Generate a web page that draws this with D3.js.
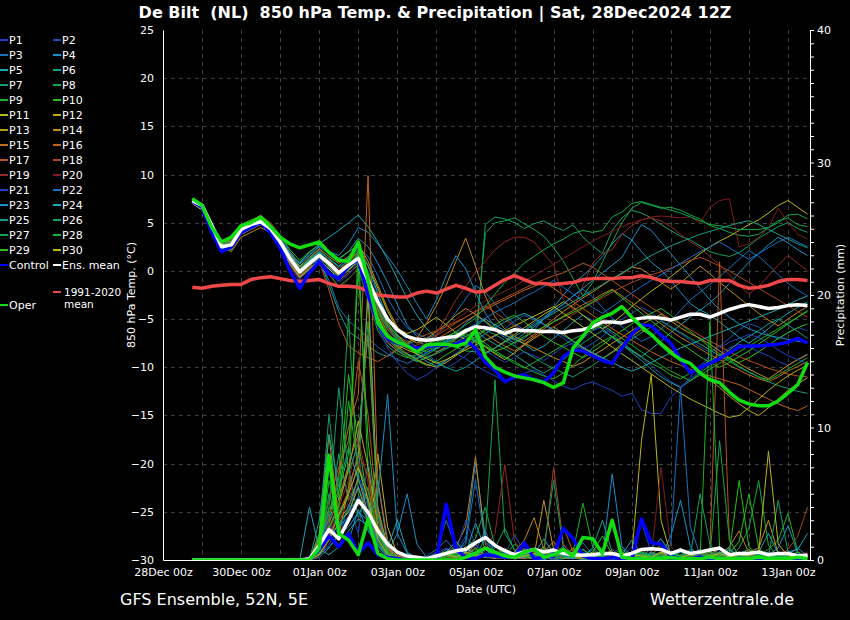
<!DOCTYPE html>
<html><head><meta charset="utf-8">
<script src="https://cdn.jsdelivr.net/npm/d3@7"></script>
<style>
body{margin:0;background:#000;}
svg{display:block;background:#000;}
text{font-family:"DejaVu Sans",sans-serif;fill:#fff;}
</style></head><body>
<svg id="c" width="850" height="620"></svg>
<script>
// ---------- categories / ticks ----------
const memberNames = ["P1","P2","P3","P4","P5","P6","P7","P8","P9","P10","P11","P12","P13","P14","P15","P16","P17","P18","P19","P20","P21","P22","P23","P24","P25","P26","P27","P28","P29","P30"];
const memberColors = ["#2040c8","#1850b0","#1870c0","#1890c8","#18a8b0","#14a088","#14a068","#14a848","#18b428","#28c018","#b8b818","#c0a818","#c09818","#c08818","#c07418","#c06418","#b85418","#a84420","#982820","#801c1c","#2040c8","#1870c0","#1890c8","#18a8b8","#14a088","#14a068","#14a848","#18b428","#28c018","#b8b818"];
const xTickLabels = ["28Dec 00z","30Dec 00z","01Jan 00z","03Jan 00z","05Jan 00z","07Jan 00z","09Jan 00z","11Jan 00z","13Jan 00z"];
const tempTicks = [-30,-25,-20,-15,-10,-5,0,5,10,15,20,25];
const precTicks = [0,10,20,30,40];

// ---------- 850 hPa temperature (°C), 6-hourly from 28Dec 18z ----------
const tMean = [7.3,6.8,4.7,2.5,2.7,4.3,4.8,5.1,4.4,3.0,1.3,-0.1,0.8,1.6,0.8,-0.2,
 0.6,1.3,-1.0,-3.2,-5.0,-6.1,-6.8,-7.1,-7.2,-7.1,-6.9,-6.8,-6.2,-5.8,-5.9,-6.1,
 -6.5,-6.1,-6.2,-6.2,-6.3,-6.3,-6.4,-6.2,-6.1,-5.8,-5.3,-5.3,-5.4,-5.1,-4.9,-4.8,
 -4.9,-5.1,-4.8,-4.5,-4.5,-4.8,-4.4,-4.0,-3.7,-3.5,-3.7,-3.9,-3.8,-3.6,-3.5,-3.6];
const tControl = [7.2,6.6,4.0,2.0,2.5,4.0,4.5,5.0,4.0,2.4,0.0,-1.8,-0.2,1.0,-0.3,-0.8,
 0.5,1.2,-2.5,-5.5,-7.0,-7.5,-7.8,-8.0,-7.9,-7.7,-7.7,-7.6,-7.2,-8.0,-9.5,-10.3,
 -11.5,-11.0,-10.8,-11.3,-11.5,-10.6,-8.9,-8.2,-8.3,-8.8,-9.3,-9.6,-8.0,-6.6,-5.6,-5.7,
 -6.7,-7.5,-9.2,-10.6,-10.0,-9.6,-9.1,-8.5,-7.9,-7.8,-7.8,-7.7,-7.6,-7.4,-7.0,-7.5];
const tOper = [7.5,6.8,4.5,3.0,3.5,4.7,5.0,5.6,4.6,3.5,2.8,2.4,2.7,3.0,1.9,1.1,
 1.0,3.0,-1.0,-5.4,-6.8,-7.4,-7.8,-8.4,-7.7,-7.6,-7.6,-7.8,-7.5,-6.1,-8.9,-10.0,
 -10.5,-10.9,-11.1,-11.3,-11.6,-12.1,-11.6,-8.0,-6.8,-5.4,-4.8,-4.4,-3.7,-4.8,-5.8,-6.6,
 -7.6,-8.5,-9.2,-9.6,-10.6,-11.3,-11.6,-12.6,-13.4,-13.8,-14.0,-14.0,-13.5,-12.7,-11.8,-9.5];
const tClim = [-1.7,-1.8,-1.6,-1.5,-1.4,-1.4,-0.9,-0.7,-0.6,-0.8,-1.0,-1.1,-1.0,-0.9,-1.3,-1.6,
 -1.6,-1.7,-2.1,-2.5,-2.6,-2.7,-2.7,-2.3,-2.1,-2.3,-1.9,-1.5,-1.8,-2.2,-2.1,-1.5,
 -0.9,-0.5,-0.9,-1.3,-1.3,-1.4,-1.3,-1.2,-0.9,-0.8,-0.8,-0.8,-0.7,-0.7,-0.5,-0.7,
 -1.0,-1.1,-1.1,-1.2,-1.3,-1.0,-1.0,-1.0,-1.5,-1.8,-1.7,-1.5,-1.1,-0.9,-0.9,-1.0];

const tP1 = [7.2,6.6,4.3,2.1,2.6,4.0,4.6,5.0,4.1,2.4,0.6,-0.9,0.4,1.8,0.3,-0.7,
 0.4,1.0,-2.0,-5.8,-7.5,-8.3,-8.6,-9.0,-8.5,-8.0,-7.4,-7.0,-6.8,-7.3,-8.2,-8.9,
 -9.5,-9.0,-8.4,-8.8,-9.3,-8.6,-7.9,-7.5,-7.0,-6.2,-5.8,-6.5,-7.4,-8.3,-9.0,-9.8,
 -10.7,-11.5,-12.0,-11.2,-10.4,-9.5,-8.7,-8.0,-7.6,-7.9,-8.4,-8.8,-9.4,-9.8,-9.2,-8.6];
const tP2 = [7.4,6.9,5.0,3.2,3.0,4.4,5.0,5.4,4.6,3.3,1.0,0.3,1.2,2.0,0.5,-1.0,
 0.2,1.8,0.0,-2.5,-4.8,-6.0,-7.2,-7.9,-8.6,-9.4,-10.1,-9.5,-8.8,-8.0,-7.2,-6.8,
 -6.0,-5.2,-4.6,-5.0,-5.6,-6.3,-7.0,-7.7,-8.1,-7.5,-6.8,-5.9,-5.0,-4.4,-3.8,-4.3,
 -5.1,-5.9,-6.5,-7.2,-7.9,-8.4,-7.8,-7.0,-6.1,-5.5,-5.8,-6.6,-7.1,-6.4,-5.9,-6.2];
const tP3 = [7.3,6.7,4.6,2.4,2.5,4.2,4.7,5.3,4.5,3.1,1.5,0.1,1.0,1.4,1.0,0.2,
 1.1,2.4,1.5,-0.5,-2.8,-4.6,-5.9,-6.5,-7.0,-6.6,-5.7,-4.3,-2.9,-1.5,-2.2,-3.4,
 -4.6,-5.5,-6.1,-5.4,-4.8,-4.1,-3.5,-2.6,-1.9,-2.7,-3.8,-4.9,-5.8,-6.6,-7.3,-6.8,
 -6.0,-5.2,-4.1,-3.0,-2.2,-1.4,-0.6,0.3,1.2,2.1,1.5,0.6,-0.4,-1.3,-2.0,-2.6];
const tP4 = [7.1,6.5,4.4,2.7,3.0,4.5,5.1,5.5,4.8,3.6,2.0,0.7,1.6,2.5,1.8,1.2,
 2.0,3.4,2.5,0.8,-1.2,-3.5,-5.6,-6.8,-7.5,-7.9,-7.3,-6.5,-5.4,-4.6,-5.3,-6.2,
 -6.9,-7.5,-7.0,-6.1,-5.0,-3.8,-2.5,-1.3,-0.5,0.4,1.5,2.8,3.9,3.2,2.0,0.9,
 0.1,-1.0,-2.2,-3.4,-4.1,-3.3,-2.4,-1.3,-0.2,0.9,1.8,2.7,3.5,2.9,2.2,1.6];
const tP5 = [7.2,6.6,4.5,2.6,2.9,4.4,4.9,5.2,4.3,3.0,1.7,0.9,1.9,2.8,3.5,4.2,
 5.0,5.8,4.6,3.0,1.2,-0.8,-2.9,-4.6,-6.0,-6.9,-7.4,-7.0,-6.5,-5.7,-5.0,-5.6,
 -6.2,-7.0,-7.6,-8.3,-7.8,-7.0,-6.2,-5.3,-4.6,-5.2,-6.0,-6.9,-7.7,-8.3,-8.9,-8.1,
 -7.3,-6.4,-5.6,-4.8,-4.0,-4.6,-5.3,-6.1,-6.9,-7.5,-6.8,-6.0,-5.1,-4.4,-3.8,-3.2];
const tP6 = [7.5,7.0,4.8,2.9,2.4,4.0,4.6,5.6,4.9,3.5,0.8,-0.6,0.9,1.3,-1.5,-4.2,
 -6.3,-7.0,-7.8,-8.5,-8.9,-8.2,-7.6,-7.2,-7.8,-8.4,-8.0,-7.4,-6.8,-6.2,-7.0,-7.6,
 -8.1,-8.7,-9.4,-10.1,-10.6,-10.0,-9.2,-8.3,-7.5,-6.8,-6.2,-6.8,-7.6,-8.5,-9.3,-10.2,
 -11.0,-11.6,-12.1,-11.4,-10.6,-9.8,-9.0,-8.2,-7.4,-6.8,-6.2,-5.5,-5.0,-5.6,-6.3,-7.0];
const tP7 = [7.4,6.8,4.6,2.6,3.0,4.6,5.0,5.4,4.7,3.2,1.4,0.2,1.3,2.2,1.2,0.4,
 1.0,2.2,-0.5,-3.8,-6.0,-7.1,-7.6,-8.1,-8.4,-8.0,-7.5,-7.9,-8.3,-8.4,4.8,5.6,
 5.4,5.0,4.4,4.9,5.2,4.6,4.2,4.8,3.5,2.6,1.8,4.2,5.5,6.3,6.0,5.5,
 4.8,4.2,3.6,3.2,2.6,2.0,1.7,1.5,1.9,2.6,3.4,4.0,4.6,5.0,4.4,4.0];
const tP8 = [7.3,6.7,4.4,2.2,2.3,4.1,4.8,5.2,4.6,3.4,1.6,0.4,1.1,1.9,1.0,0.0,
 0.8,1.6,-1.4,-4.4,-6.5,-7.3,-7.8,-8.2,-8.0,-7.6,-7.0,-7.4,-7.8,-7.0,3.9,5.0,
 5.2,5.5,4.9,4.3,3.6,2.4,1.0,-0.8,-2.6,-1.2,0.9,3.0,5.0,6.5,7.1,6.8,
 6.5,6.6,6.3,5.8,5.4,4.7,4.4,4.0,3.7,3.6,3.8,4.5,5.2,5.5,4.8,4.6];
const tP9 = [7.2,6.6,4.2,2.0,2.4,4.3,4.9,5.3,4.4,2.8,0.9,-0.5,0.3,1.1,-0.3,-1.6,
 -0.8,0.2,-3.0,-6.2,-7.8,-8.6,-9.0,-8.7,-8.2,-7.8,-7.2,-6.6,-6.0,-6.7,-7.5,-8.3,
 -8.9,-9.4,-10.0,-10.5,-10.9,-11.2,-10.6,-9.8,-8.9,-8.0,-7.3,-6.8,-7.4,-8.2,-8.9,-9.6,
 -10.1,-10.8,-11.2,-10.6,-9.9,-9.3,-8.7,-9.2,-9.9,-10.5,-11.0,-11.3,-10.8,-10.2,-9.6,-9.0];
const tP10 = [7.5,6.9,4.9,3.0,3.2,4.8,5.3,5.7,5.0,3.7,2.2,1.1,2.0,2.7,2.1,1.3,
 2.0,2.6,-0.2,-4.0,-6.6,-7.8,-8.6,-9.3,-9.8,-9.4,-8.7,-8.1,-7.5,-6.8,-6.2,-5.6,
 -5.0,-4.6,-5.3,-6.1,-6.8,-7.4,-7.9,-8.5,-9.0,-8.4,-7.7,-6.9,-6.2,-5.5,-4.9,-4.4,
 -3.9,-4.6,-5.5,-6.3,-7.1,-7.9,-8.6,-9.1,-9.5,-9.0,-8.4,-7.7,-7.0,-6.4,-5.9,-5.5];
const tP11 = [7.0,6.4,4.0,2.3,2.6,3.9,4.4,4.8,4.0,2.6,1.1,0.0,0.6,1.2,0.6,0.0,
 0.9,2.0,0.5,-1.8,-4.2,-6.0,-6.5,-6.1,-5.5,-4.8,-5.6,-6.4,-7.2,-7.9,-8.5,-8.0,
 -7.3,-6.6,-5.9,-5.2,-4.5,-3.9,-3.2,-3.8,-4.6,-5.4,-6.0,-5.4,-4.6,-3.7,-2.9,-2.1,
 -1.4,-0.6,0.2,1.0,1.8,2.5,3.1,3.6,4.2,4.8,5.3,6.0,6.8,7.3,6.6,5.9];
const tP12 = [7.3,6.8,4.6,2.4,2.2,3.8,4.4,5.0,4.2,2.9,1.0,-0.3,0.5,1.5,0.4,-0.6,
 0.2,1.2,-1.5,-4.8,-6.8,-7.9,-8.6,-9.2,-9.7,-10.0,-9.5,-8.8,-8.0,-7.3,-7.9,-8.6,
 -9.2,-8.5,-7.7,-7.0,-6.4,-5.8,-6.5,-7.3,-8.0,-8.6,-9.1,-8.4,-7.6,-6.8,-6.1,-6.7,
 -7.4,-8.2,-9.0,-9.7,-10.5,-11.3,-12.1,-13.0,-13.8,-14.5,-15.0,-14.2,-13.3,-12.4,-11.7,-11.1];
const tP13 = [7.2,6.6,4.4,2.8,3.1,4.5,5.0,5.4,4.6,3.3,1.8,0.5,1.4,2.3,1.5,0.8,
 1.5,2.8,1.0,-1.5,-3.9,-5.8,-6.9,-7.5,-7.0,-6.3,-5.5,-4.6,-3.9,-4.5,-5.2,-6.0,
 -6.6,-7.1,-7.5,-8.0,-8.5,-9.0,-9.4,-9.9,-9.5,-8.8,-8.2,-7.5,-6.9,-6.2,-5.6,-5.0,
 -4.5,-5.2,-5.9,-6.5,-7.0,-7.6,-8.3,-9.0,-9.6,-10.2,-10.7,-11.2,-10.5,-9.8,-9.2,-8.7];
const tP14 = [7.4,6.8,4.5,2.5,2.0,3.5,4.0,4.5,4.0,2.9,1.4,0.0,0.7,1.6,0.5,-0.5,
 0.5,1.5,-0.8,-3.5,-5.6,-6.7,-7.4,-7.0,-5.4,-3.6,-1.5,1.0,3.4,0.5,-2.6,-4.8,
 -6.0,-6.8,-7.3,-6.6,-5.8,-5.0,-4.2,-3.5,-2.8,-2.2,-1.5,-0.8,-0.3,0.4,0.2,-0.5,
 -1.2,-1.9,-1.2,-0.4,0.5,-0.3,-1.2,-2.0,-2.8,-3.6,-4.4,-5.1,-5.7,-5.0,-4.3,-3.7];
const tP15 = [7.1,6.5,4.3,2.2,2.5,4.1,4.7,5.1,4.3,2.7,0.9,-0.6,0.2,1.0,-0.1,-1.0,
 -0.2,0.6,-2.4,-5.6,-7.4,-8.3,-8.9,-9.4,-9.0,-8.5,-7.8,-7.1,-6.4,-5.8,-6.5,-7.2,
 -7.8,-8.3,-7.6,-6.8,-6.0,-5.3,-4.7,-4.1,-3.5,-3.0,-2.4,-1.9,-2.6,-3.3,-4.0,-4.8,
 -5.5,-6.2,-6.9,-7.5,-8.1,-8.7,-9.2,-9.8,-10.3,-10.8,-11.2,-11.5,-11.0,-10.4,-9.9,-9.4];
const tP16 = [7.3,6.7,4.7,2.7,2.9,4.4,4.9,5.3,4.5,3.1,1.4,0.1,0.9,1.7,0.7,-0.3,
 0.5,1.3,-0.9,-3.6,-5.8,-7.0,-7.6,-8.0,-7.6,-7.1,-6.5,-5.9,-5.2,-4.6,-4.0,-3.5,
 -3.0,-2.5,-2.0,-1.6,-1.2,-1.8,-2.5,-3.2,-3.9,-4.6,-5.3,-6.0,-6.6,-7.2,-7.8,-8.4,
 -8.9,-9.4,-9.8,-10.2,-10.6,-10.9,-11.2,-11.5,-11.8,-12.3,-12.8,-13.3,-13.8,-14.2,-14.5,-14.0];
const tP17 = [7.4,6.9,4.9,2.9,2.6,4.2,4.8,5.5,4.7,3.0,1.0,-0.5,0.4,1.0,-2.0,-5.5,
 -7.8,-8.5,-9.0,-9.4,-8.8,-8.1,-7.5,-7.0,-6.6,-6.2,-5.8,-5.3,-4.8,-4.2,-3.8,-3.3,
 -2.8,-2.3,-1.8,-1.3,-0.9,-0.5,-0.2,0.3,0.8,0.4,-0.3,-1.0,-1.7,-2.4,-3.1,-3.8,
 -4.4,-5.0,-5.5,-6.1,-6.7,-7.3,-7.8,-8.4,-8.9,-9.3,-9.7,-10.1,-10.4,-10.7,-10.9,-11.0];
const tP18 = [7.2,6.6,4.4,2.3,2.7,4.3,4.8,5.2,4.3,2.8,1.2,-0.2,0.7,1.5,0.6,-0.4,
 0.4,1.4,-1.2,-4.3,-6.4,-7.5,-8.0,-7.7,-7.2,-6.7,-6.1,-5.4,-4.8,-4.2,-3.6,-4.3,
 -5.0,-5.7,-6.3,-6.9,-6.4,-5.8,-5.2,-4.5,-3.9,-3.3,-2.8,-2.2,-1.7,-1.2,-0.8,-0.4,
 -0.1,0.3,0.7,1.1,1.4,1.0,0.5,0.0,-0.6,-1.2,-1.8,-2.4,-3.0,-3.6,-4.2,-4.8];
const tP19 = [7.5,6.9,4.8,3.0,3.3,4.7,5.2,5.8,5.0,3.5,1.5,0.3,1.2,2.1,1.1,0.2,
 0.9,1.9,-0.7,-3.7,-6.0,-7.0,-7.7,-8.2,-7.8,-6.5,-4.8,-3.0,-1.6,-0.2,1.0,2.2,
 3.0,3.5,3.5,3.0,1.8,0.6,-3.0,-4.0,-1.5,0.8,1.8,2.2,3.8,4.7,5.3,5.5,
 5.2,4.6,3.8,3.0,2.4,1.5,0.6,-0.4,-1.5,-2.4,-1.6,-0.5,0.6,1.6,0.8,0.0];
const tP20 = [7.3,6.8,4.6,2.6,2.8,4.3,4.8,5.3,4.5,2.9,0.6,-1.2,-0.3,0.9,-0.4,-1.8,
 -0.9,0.4,-2.5,-5.4,-7.2,-8.0,-8.5,-8.1,-7.4,-6.6,-5.8,-5.0,-4.3,-3.7,-3.1,-2.6,
 -2.1,-1.6,-1.0,-0.5,0.1,0.7,1.3,1.9,2.5,3.1,3.6,4.1,4.6,5.0,5.3,5.6,
 5.7,5.6,5.5,5.6,5.0,6.6,7.3,7.5,2.5,2.8,3.5,4.5,6.5,5.0,3.8,3.3];
const tP21 = [7.2,6.5,4.3,2.2,2.5,4.0,4.5,4.9,4.1,2.6,0.8,-0.8,0.1,1.3,0.0,-1.2,
 -0.4,0.9,-2.2,-5.8,-8.0,-9.5,-10.6,-11.3,-10.8,-10.0,-9.3,-8.6,-9.1,-9.8,-10.4,-10.9,
 -11.4,-11.0,-10.6,-10.3,-10.8,-11.4,-12.0,-12.3,-11.8,-11.5,-12.0,-12.4,-13.0,-12.7,-14.4,-14.8,
 -14.8,-13.1,-12.2,-11.0,-9.8,-8.9,-8.0,-7.4,-7.0,-6.6,-6.9,-7.5,-8.2,-8.8,-9.2,-9.6];
const tP22 = [7.4,6.8,4.7,2.6,2.4,4.0,4.6,5.2,4.4,3.0,1.2,-0.3,0.6,1.2,-1.0,-3.8,
 -5.2,-6.0,-7.0,-7.9,-8.6,-9.2,-9.6,-9.1,-8.5,-7.9,-7.3,-6.7,-6.1,-5.5,-4.9,-4.3,
 -3.8,-3.3,-2.7,-2.2,-1.6,-1.0,-1.7,-2.4,-3.1,-3.8,-4.4,-3.7,-3.0,-2.3,-1.6,-1.0,
 -0.4,0.2,0.8,1.4,2.0,2.5,3.0,2.4,1.8,1.2,1.8,2.4,3.0,3.5,3.0,2.5];
const tP23 = [7.1,6.4,4.2,2.3,2.8,4.4,5.0,5.3,4.6,3.3,1.9,0.8,1.7,2.6,2.0,1.6,
 2.8,4.5,4.0,2.8,1.5,0.1,-1.6,-3.4,-5.0,-3.0,-0.5,1.6,0.2,-2.2,-4.4,-5.8,
 -6.7,-7.2,-6.5,-5.8,-5.0,-4.2,-3.4,-2.6,-1.8,-1.0,-0.2,0.6,1.4,3.2,4.8,4.2,
 3.0,1.8,0.6,-0.6,-1.8,-3.0,-4.0,-4.8,-5.5,-6.0,-6.4,-6.7,-6.9,-7.1,-7.3,-7.4];
const tP24 = [7.3,6.7,4.5,2.5,2.6,4.2,4.7,5.1,4.4,3.1,1.6,0.4,1.2,2.0,1.3,0.5,
 1.4,2.6,0.6,-2.3,-4.9,-6.6,-7.8,-8.7,-9.4,-9.9,-9.3,-8.6,-7.9,-7.2,-6.5,-5.9,
 -5.3,-4.8,-4.4,-4.9,-5.5,-6.1,-6.7,-7.3,-7.9,-8.5,-9.0,-9.5,-10.0,-10.4,-10.0,-9.5,
 -9.0,-8.5,-8.0,-7.6,-7.2,-6.8,-6.4,-6.0,-5.6,-5.2,-4.8,-4.4,-4.0,-3.5,-3.0,-2.6];
const tP25 = [7.4,6.8,4.6,2.7,3.0,4.5,5.1,5.5,4.7,3.2,1.5,0.2,1.1,1.9,0.9,-0.1,
 0.7,1.7,-0.6,-3.4,-5.7,-7.0,-7.8,-8.3,-8.9,-9.5,-10.0,-10.4,-10.0,-9.3,-8.6,-8.0,
 -7.4,-6.8,-6.2,-5.6,-5.0,-4.4,-3.8,-3.2,-2.6,-2.0,-1.4,-0.8,-0.2,0.4,1.0,1.6,
 2.1,2.6,3.0,3.4,3.8,4.1,4.4,4.7,5.0,5.2,4.8,4.3,3.8,3.3,2.8,2.4];
const tP26 = [7.2,6.6,4.3,2.1,2.2,3.9,4.5,5.0,4.2,2.8,1.1,-0.2,0.6,1.5,0.4,-0.6,
 0.0,1.0,-1.8,-4.9,-7.0,-8.2,-8.9,-9.4,-9.0,-8.6,-8.1,-7.6,-7.1,-6.6,-6.1,-6.6,
 -7.2,-7.8,-8.4,-9.0,-9.6,-10.1,-10.6,-11.0,-10.4,-9.8,-9.1,-8.5,-7.8,-7.1,-6.4,-5.8,
 -5.2,-5.8,-6.4,-7.0,-7.6,-8.2,-8.8,-9.4,-10.0,-10.5,-11.0,-11.5,-11.9,-12.2,-12.5,-12.7];
const tP27 = [7.3,6.7,4.6,2.5,2.8,4.4,4.9,5.3,4.5,3.0,1.3,0.0,0.8,1.7,0.8,-0.2,
 0.6,1.5,-1.0,-3.9,-6.1,-7.2,-7.9,-8.4,-8.0,-7.4,-6.9,-6.3,-5.6,-4.9,-3.7,-2.4,
 -1.2,-0.2,0.8,1.5,2.2,2.8,3.3,3.9,4.2,4.0,4.2,5.6,6.1,7.0,7.2,6.9,
 6.6,6.3,6.0,5.6,5.2,4.8,4.7,4.5,4.3,4.3,4.3,4.5,5.0,5.8,5.9,5.4];
const tP28 = [7.2,6.6,4.4,2.4,2.7,4.3,4.8,5.2,4.4,2.9,1.2,-0.1,0.7,1.6,0.7,-0.3,
 0.3,1.1,-1.6,-4.7,-6.9,-8.0,-8.7,-9.1,-8.7,-8.1,-7.6,-7.0,-6.5,-7.1,-7.8,-8.5,
 -9.0,-9.6,-10.1,-9.5,-8.9,-8.3,-7.7,-7.1,-6.6,-6.1,-5.6,-6.3,-7.0,-7.7,-8.4,-9.1,
 -9.8,-10.4,-10.9,-11.4,-10.8,-10.2,-9.6,-9.0,-8.4,-7.8,-7.2,-6.6,-6.0,-5.4,-4.8,-4.2];
const tP29 = [7.4,6.8,4.7,2.6,2.9,4.5,5.0,5.4,4.6,3.1,1.4,0.2,1.0,1.8,0.8,-0.2,
 0.6,1.8,-0.3,-3.2,-5.4,-6.8,-7.6,-8.0,-7.6,-7.2,-6.8,-6.4,-6.8,-7.3,-7.8,-8.3,
 -8.0,-7.4,-6.8,-6.3,-5.8,-5.3,-4.8,-4.3,-3.8,-3.2,-2.6,-2.0,-2.8,-3.6,-4.4,-5.2,
 -6.0,-6.8,-7.5,-8.2,-8.9,-9.5,-10.0,-9.5,-8.9,-8.3,-7.6,-6.9,-6.2,-5.5,-4.8,-4.1];
const tP30 = [7.0,6.3,4.1,2.0,2.3,3.8,4.3,4.8,3.9,2.5,0.7,-0.7,0.2,1.1,0.2,-0.8,
 0.1,1.0,-1.7,-4.8,-6.8,-7.7,-8.2,-8.6,-9.1,-9.6,-9.2,-8.7,-8.2,-7.7,-7.2,-6.7,
 -6.2,-5.7,-5.2,-4.7,-4.2,-3.7,-4.4,-5.1,-5.8,-6.5,-7.2,-7.9,-8.6,-9.3,-10.0,-10.7,
 -11.4,-12.1,-12.7,-13.3,-13.8,-14.3,-14.8,-15.2,-15.0,-14.2,-13.3,-12.4,-11.6,-10.9,-10.3,-9.8];

// ---------- precipitation (mm / 6h) ----------
const pMean = [0,0,0,0,0,0,0,0,0,0,0,0,0.1,1.1,2.3,1.6,
 3.0,4.5,3.6,2.2,1.2,0.6,0.3,0.2,0.1,0.3,0.5,0.7,0.8,1.3,1.7,1.1,
 0.7,0.4,0.6,0.8,0.6,0.75,0.5,0.4,0.35,0.4,0.5,0.5,0.3,0.5,0.8,0.85,
 0.8,0.5,0.75,0.5,0.6,0.75,0.9,0.4,0.5,0.5,0.6,0.4,0.5,0.5,0.3,0.35];
const pControl = [0,0,0,0,0,0,0,0,0,0,0,0,0,0.8,1.8,1.0,
 2.0,0.5,1.3,0.4,0.2,0.1,0,0,0,0.1,4.2,0.8,0.2,0.1,0.4,0.3,
 0.2,0.3,1.3,0.1,0.2,0.3,2.4,1.6,0.3,0.1,0.1,0.2,0.1,0,3.1,1.3,
 1.2,0.3,0.1,0.1,0.2,0.1,0,0.1,0.1,0,0.1,0.1,0,0.1,0.1,0];
const pOper = [0,0,0,0,0,0,0,0,0,0,0,0,0,0.9,7.9,2.0,
 1.5,0.4,3.1,0.5,0.1,0,0,0,0,0,0,0,0.2,0.5,0.9,0.6,
 0.3,0.2,0.6,0.8,0.2,0.4,0.8,0.3,1.7,1.6,0.5,3.0,0.2,0.1,0.1,0.1,
 0.1,0.2,0.1,0.1,0.1,0.2,0.1,0.1,0.1,0.1,0.2,0.1,0.1,0.1,0.2,0.1];

const pP1 = [0,0,0,0,0,0,0,0,0,0,0,0,0,0.4,1.2,2.5, 3.0,6.5,4.0,1.2,0.3,0.1,0,0,0,0.2,0.8,0.3,0.5,1.1,0.6,0.2, 0.1,0.4,0.9,0.3,0.1,0.2,0.6,0.2,0,0.1,0.3,0.1,0.2,1.0,2.8,0.6, 0.2,0.1,0,0.3,0.5,0.2,0.1,0.4,0.2,0,0.1,0.3,0.6,0.2,0.1,0.2];
const pP2 = [0,0,0,0,0,0,0,0,0,0,0,0,0,1.0,2.2,1.5, 4.2,2.0,7.5,3.2,0.5,0.2,0,0.1,0,0,0.3,0.6,1.8,0.9,0.2,0.1, 0.4,1.9,0.6,0.2,0.1,0.3,1.1,0.4,0.2,0,0,0.2,0.4,0.1,0,0.3, 0.6,0.2,0.1,0,0,0.2,0.5,0.9,0.3,0.1,0,0.1,0.4,0.2,0.1,0];
const pP3 = [0,0,0,0,0,0,0,0,0,0,0,0,0,0.6,1.8,3.4, 5.0,8.2,2.4,0.8,0.2,0,0,0,0.1,0.6,3.0,0.9,0.3,0.7,2.2,0.5, 0.2,0.1,0.3,0.8,0.2,0,0.1,0.5,1.3,0.4,0.1,0,0.2,0.6,0.3,0.1, 0,0.2,0.4,0.1,0,0.3,0.8,0.3,0.1,0,0.2,0.5,0.2,0,0.1,0.3];
const pP4 = [0,0,0,0,0,0,0,0,0,0,0,0,0,0.2,0.9,2.0, 1.4,3.8,2.2,1.0,0.6,2.0,5.0,1.2,0.2,0,0.1,0.4,1.5,7.4,1.8,0.3, 0.1,0.6,0.2,0.1,0,0.3,0.9,0.2,0.1,0.5,0.3,0.1,0.2,0.4,0.1,0.6, 0.3,1.8,4.5,1.0,0.2,0.1,0,0.2,0.6,0.3,0.1,0.4,0.9,2.6,0.5,0.2];
const pP5 = [0,0,0,0,0,0,0,0,0,0,0,0,4.0,0.8,0.4,1.0, 2.2,3.1,2.6,6.0,1.0,0.3,0.1,0,0,0.2,0.4,0.2,0.9,0.5,0.2,1.2, 0.5,0.2,0.1,0.4,1.6,0.5,0.2,0.1,0.3,0.8,0.2,0.1,0.4,1.5,0.4,0.2, 0.1,0.3,0.2,0.8,0.3,0.1,0,0.2,0.4,0.1,0.6,2.0,0.5,0.2,0.3,0.1];
const pP6 = [0,0,0,0,0,0,0,0,0,0,0,0,0,1.5,3.0,8.0, 4.5,6.0,21.0,3.5,0.6,0.1,0,0,0,0,0.1,0.2,0.4,0.2,0.9,0.4, 0.2,0.1,0.6,0.3,0.1,0.2,0.5,0.2,0,0.1,0.2,0.6,0.3,0.1,0.4,0.2, 0.1,0,0.2,0.6,0.2,0.1,0.3,0.8,0.2,0,0.1,0.2,0.5,0.1,0,0.2];
const pP7 = [0,0,0,0,0,0,0,0,0,0,0,0,0,2.0,11.0,4.5, 7.0,3.2,5.5,1.8,0.4,0,0,0,0.1,0.3,0.8,0.5,0.2,0.6,0.3,0.9, 2.4,0.7,0.2,0.1,0.5,0.3,0.9,0.2,0.1,0,0.2,0.4,0.1,0.3,0.6,0.2, 0.1,0.4,0.9,0.3,5.0,1.2,0.2,0.1,0,0.3,0.6,0.2,0.1,0.4,0.2,0.1];
const pP8 = [0,0,0,0,0,0,0,0,0,0,0,0,0,0.8,2.6,6.2, 18.5,5.0,3.0,1.2,0.2,0,0,0.1,0,0,0.2,0.9,0.4,0.3,1.6,13.6, 2.0,0.8,0.4,0.9,0.3,0.1,0.2,0.6,0.3,0.2,0.1,0.4,0.8,0.2,0.1,0.3, 0.6,0.2,0.1,0.3,0.2,0.1,0.4,0.2,0.9,2.4,6.0,1.1,0.3,0.2,0.1,0.2];
const pP9 = [0,0,0,0,0,0,0,0,0,0,0,0,0,0.5,6.0,3.2, 4.8,24.0,6.5,1.5,0.3,0.1,0,0,0,0.1,0.4,0.2,0.6,0.3,0.8,0.4, 0.3,1.2,0.5,0.2,0.1,0.4,0.3,0.6,4.3,1.0,0.2,0.1,0.3,0.2,0.6,0.4, 0.2,0.1,0.3,0.5,0.2,0.9,0.3,0.1,0,0.2,0.4,0.8,1.5,3.5,0.6,0.2];
const pP10 = [0,0,0,0,0,0,0,0,0,0,0,0,0,1.2,3.5,5.0, 14.0,9.0,4.2,2.0,0.6,0.2,0.1,0,0,0,0.3,0.5,0.2,0.9,0.4,0.1, 0.6,0.3,0.2,0.5,1.0,0.3,0.1,0.4,0.2,0.6,1.8,0.4,0.1,0.2,0.5,0.3, 0.1,0.2,0.6,0.3,0.1,0.4,0.2,0.5,1.4,5.0,0.9,0.2,0.1,0.3,0.2,0.1];
const pP11 = [0,0,0,0,0,0,0,0,0,0,0,0,0,0.3,1.5,2.8, 3.6,5.5,3.0,8.0,2.5,0.4,0.1,0,0,0.2,0.6,0.3,0.2,0.5,0.8,0.3, 0.1,0.2,0.4,0.2,0.9,0.3,0.1,0.2,0.5,0.3,0.1,0.2,0.4,0.3,9.0,14.0, 3.0,0.4,0.2,0.1,0.3,0.2,0.6,0.4,0.1,0.2,0.3,0.1,0.5,0.2,0.4,0.3];
const pP12 = [0,0,0,0,0,0,0,0,0,0,0,0,0,0.9,2.4,4.2, 6.8,10.5,7.0,2.6,0.8,0.2,0,0,0,0.1,0.2,0.5,1.0,0.4,0.2,0.6, 0.3,0.1,0.8,0.4,0.2,0.1,0.3,0.9,0.2,0.1,0.4,0.3,0.2,0.6,0.3,0.1, 0.2,0.5,0.3,0.1,0.2,0.6,0.3,0.1,0.4,0.8,0.3,0.2,0.1,0.3,0.2,0.4];
const pP13 = [0,0,0,0,0,0,0,0,0,0,0,0,0,0.4,2.0,1.8, 5.5,7.8,20.0,4.0,0.9,0.3,0,0,0,0.2,0.5,0.2,0.4,1.2,0.3,0.2, 0.1,0.4,0.2,0.3,4.5,0.8,0.2,0.1,0.3,0.6,0.2,0.1,0.5,0.2,0.1,0.4, 0.3,0.2,0.1,0.4,0.8,0.3,0.2,0.1,0.2,0.6,0.9,3.0,0.5,0.2,0.1,0.3];
const pP14 = [0,0,0,0,0,0,0,0,0,0,0,0,0,1.8,9.4,3.0, 4.0,6.2,3.5,1.4,0.3,0.1,0,0,0,0.3,0.6,1.0,2.5,7.8,1.2,0.4, 0.2,0.6,1.5,3.2,0.8,0.3,0.2,0.1,0.4,0.2,0.1,0.3,0.6,0.2,0.1,0.3, 0.5,0.2,0.1,0.3,0.6,0.2,0.4,1.0,2.2,0.5,0.2,0.1,0.3,0.2,0.6,0.2];
const pP15 = [0,0,0,0,0,0,0,0,0,0,0,0,0,0.6,2.8,4.6, 7.2,9.5,17.0,3.8,1.0,0.2,0,0,0,0,0.2,0.4,0.2,0.6,0.3,0.1, 0.4,0.2,0.1,0.3,0.6,1.4,0.4,0.2,0.1,0.5,0.3,0.2,0.1,0.4,0.8,0.3, 1.2,0.3,0.2,0.1,0.4,0.2,0.6,0.3,0.1,0.2,0.5,0.3,0.2,0.1,0.4,0.2];
const pP16 = [0,0,0,0,0,0,0,0,0,0,0,0,0,0.8,3.2,6.5, 10.0,12.5,29.0,6.0,1.5,0.4,0.1,0,0,0.1,0.3,0.2,0.5,0.9,0.3,0.2, 0.1,0.3,0.6,0.2,0.1,0.4,2.5,0.6,0.2,0.1,0.3,0.8,0.2,0.1,0.4,0.2, 0.3,0.6,0.2,0.1,0.2,0.4,0.9,0.2,0.1,0.3,0.2,0.5,0.3,0.1,0.2,0.4];
const pP17 = [0,0,0,0,0,0,0,0,0,0,0,0,0,1.4,4.5,7.0, 9.0,15.0,11.0,3.0,0.6,0.1,0,0,0.1,0.4,0.2,0.1,0.3,0.6,0.2,0.4, 0.9,0.3,0.2,0.1,0.6,0.3,0.2,0.4,0.1,0.3,0.5,0.2,0.1,0.3,0.2,0.6, 0.2,0.1,0.3,0.4,0.2,0.6,22.5,1.5,0.3,0.2,0.1,0.4,0.6,0.2,0.3,0.5];
const pP18 = [0,0,0,0,0,0,0,0,0,0,0,0,0,0.5,1.9,3.6, 5.2,8.0,6.4,2.2,0.5,0.1,0,0,0,0.2,0.1,0.4,0.8,0.3,0.5,0.2, 0.1,0.3,0.2,0.6,0.3,7.0,1.2,0.3,0.1,0.2,0.4,0.2,0.6,0.3,0.1,0.2, 0.4,0.2,0.1,0.3,0.5,0.2,0.1,0.3,0.6,0.2,0.4,0.1,0.2,0.8,1.8,4.0];
const pP19 = [0,0,0,0,0,0,0,0,0,0,0,0,0,0.9,2.2,4.0, 6.0,9.2,5.8,1.6,0.4,0,0,0,0,0.1,0.3,0.6,0.2,0.5,1.0,2.0, 7.2,1.4,0.4,0.2,0.6,0.3,0.2,0.8,0.4,0.1,0.3,0.2,0.5,0.2,0.1,0.3, 0.2,0.4,0.6,0.2,0.1,0.3,0.2,0.5,0.3,0.1,0.2,0.6,0.4,0.2,0.1,0.3];
const pP20 = [0,0,0,0,0,0,0,0,0,0,0,0,0,0.3,1.6,3.0, 4.4,7.5,4.8,1.4,0.3,0.1,0,0,0,0,0.2,0.4,0.3,0.7,0.2,0.5, 0.3,0.2,0.6,0.3,0.2,0.5,0.9,0.3,0.1,0.2,0.4,0.3,0.2,0.5,0.8,0.3, 7.0,1.0,0.3,0.2,0.1,0.4,0.2,0.3,0.6,0.2,0.1,0.3,0.5,0.2,0.4,0.6];
const pP21 = [0,0,0,0,0,0,0,0,0,0,0,0,0,1.0,2.8,1.6, 3.4,4.8,3.2,1.0,0.3,0.1,0,0,0.2,0.5,0.9,0.6,3.0,1.2,0.4,0.2, 0.6,0.3,0.2,0.8,0.3,0.1,0.4,0.2,0.6,0.3,0.2,0.5,1.0,0.4,0.2,0.3, 0.1,0.4,0.2,0.6,0.3,0.2,0.1,0.3,0.5,0.2,0.4,0.1,0.3,0.2,0.6,0.2];
const pP22 = [0,0,0,0,0,0,0,0,0,0,0,0,0,0.7,3.6,2.4, 4.0,5.6,3.4,1.2,0.4,0.2,0,0,0.3,0.8,1.5,0.6,1.2,6.0,1.4,0.5, 0.3,0.2,0.5,0.2,0.1,0.3,0.6,0.2,0.4,0.1,0.2,0.6,0.3,0.2,0.5,0.4, 0.3,1.2,13.0,2.5,0.4,0.2,0.1,0.3,0.2,0.6,0.3,0.1,0.4,0.2,0.3,0.1];
const pP23 = [0,0,0,0,0,0,0,0,0,0,0,0,0,0.4,1.0,1.8, 2.5,3.6,3.0,4.8,12.5,2.0,0.5,0.1,0,0.2,0.4,0.3,0.8,0.5,0.2,0.6, 0.3,0.1,0.2,0.5,0.3,0.6,0.2,0.1,0.4,0.3,0.2,6.5,1.0,0.3,0.2,0.4, 0.2,0.6,0.3,0.1,0.2,0.4,0.3,0.8,0.2,0.1,0.3,0.6,0.2,0.4,0.9,0.3];
const pP24 = [0,0,0,0,0,0,0,0,0,0,0,0,0,0.6,1.8,2.6, 3.2,4.4,3.6,1.8,0.9,3.0,0.6,0.1,0,0.2,0.6,1.4,0.5,2.8,0.8,0.3, 0.2,0.5,0.3,0.1,0.2,0.6,0.3,0.2,0.8,0.3,0.1,0.2,0.4,0.3,0.2,0.9, 1.6,0.5,0.2,0.1,0.3,0.2,0.6,0.3,0.2,0.1,0.4,0.2,0.3,0.6,0.8,2.0];
const pP25 = [0,0,0,0,0,0,0,0,0,0,0,0,0,3.0,9.5,5.5, 8.5,6.0,4.4,1.4,0.3,0.1,0,0,0.1,0.2,0.4,0.8,0.3,0.6,0.2,0.4, 0.8,0.3,0.2,0.4,0.1,0.3,0.6,0.2,0.3,0.9,3.0,0.6,0.2,0.1,0.3,0.5, 0.2,0.3,0.6,0.2,0.1,0.3,0.5,0.2,0.4,0.2,0.1,0.3,0.6,0.2,0.3,0.1];
const pP26 = [0,0,0,0,0,0,0,0,0,0,0,0,0,1.1,4.0,13.0, 6.6,8.8,18.0,3.6,0.7,0.2,0,0,0,0.1,0.3,0.2,0.6,0.4,0.2,0.3, 0.5,0.2,0.4,0.3,0.8,6.0,0.9,0.3,0.2,0.1,0.4,0.2,0.5,0.3,0.2,0.6, 0.3,0.2,0.1,0.4,0.2,0.6,0.3,0.2,0.5,0.8,0.3,0.2,4.5,0.6,0.2,0.3];
const pP27 = [0,0,0,0,0,0,0,0,0,0,0,0,0,0.5,5.0,2.6, 3.8,4.6,2.9,1.1,0.2,0,0,0,0,0.3,0.5,0.4,0.9,1.6,4.0,1.0, 0.4,0.2,0.6,0.3,0.2,0.4,0.3,0.6,0.2,0.1,0.3,0.5,0.2,0.4,0.6,0.3, 0.2,0.1,0.4,0.3,0.6,0.2,9.0,1.5,0.3,0.2,0.4,0.1,0.3,0.5,0.2,0.1];
const pP28 = [0,0,0,0,0,0,0,0,0,0,0,0,0,0.9,2.4,3.8, 12.0,7.0,5.2,2.0,0.5,0.1,0,0,0,0.1,0.2,0.5,0.3,0.9,0.4,0.2, 0.1,0.3,0.5,0.2,0.6,0.3,0.1,0.4,0.2,0.5,0.3,0.1,0.2,0.6,0.3,0.2, 0.4,0.2,0.3,0.6,0.2,18.0,1.0,0.3,0.2,0.1,0.3,0.5,0.2,0.3,0.6,0.2];
const pP29 = [0,0,0,0,0,0,0,0,0,0,0,0,0,1.6,3.8,5.2, 8.0,22.0,9.0,2.4,0.6,0.1,0,0,0,0.2,0.5,0.3,0.2,0.6,0.9,0.4, 0.2,0.6,0.3,0.1,0.4,0.2,0.5,0.3,0.8,0.2,0.1,0.3,0.6,0.2,0.4,0.3, 0.2,0.5,0.3,0.1,0.2,0.4,0.3,0.6,6.0,1.0,0.3,0.2,0.4,0.2,0.1,0.3];
const pP30 = [0,0,0,0,0,0,0,0,0,0,0,0,0,0.4,1.6,3.4, 5.0,7.0,4.6,1.6,0.4,0.1,0,0,0,0.2,0.4,0.2,0.6,0.3,0.5,0.2, 0.4,0.1,0.3,0.5,0.2,0.4,0.9,0.3,0.1,0.2,0.6,0.3,0.2,0.4,0.3,0.2, 0.6,0.3,0.2,0.4,0.1,0.3,0.5,0.2,0.4,0.3,0.6,8.2,1.2,0.3,0.2,0.4];

const memberTemps = [tP1,tP2,tP3,tP4,tP5,tP6,tP7,tP8,tP9,tP10,tP11,tP12,tP13,tP14,tP15,tP16,tP17,tP18,tP19,tP20,tP21,tP22,tP23,tP24,tP25,tP26,tP27,tP28,tP29,tP30];
const memberPrecs = [pP1,pP2,pP3,pP4,pP5,pP6,pP7,pP8,pP9,pP10,pP11,pP12,pP13,pP14,pP15,pP16,pP17,pP18,pP19,pP20,pP21,pP22,pP23,pP24,pP25,pP26,pP27,pP28,pP29,pP30];

// ---------- drawing ----------
const svg = d3.select("#c");
const L = 163, R = 810, T = 30, B = 560;
const day = 864e5;
const t0 = Date.UTC(2024, 11, 28, 0);
const times = d3.range(tMean.length).map(i => new Date(Date.UTC(2024, 11, 28, 18) + i * 6 * 3600e3));
const x = d3.scaleUtc().domain([new Date(t0), new Date(t0 + 16.564 * day)]).range([L, R]);
const yT = d3.scaleLinear().domain([-30, 25]).range([B, T]);
const yP = d3.scaleLinear().domain([0, 40]).range([B, T]);

svg.append("defs").append("clipPath").attr("id", "clip")
  .append("rect").attr("x", L).attr("y", T).attr("width", R - L).attr("height", B - T);

// grid
const grid = svg.append("g").attr("stroke", "#404040").attr("stroke-dasharray", "4,4").attr("stroke-width", 1);
d3.range(1, 17).forEach(k => {
  const xx = Math.round(x(new Date(t0 + k * day))) + 0.5;
  grid.append("line").attr("x1", xx).attr("x2", xx).attr("y1", T).attr("y2", B);
});
tempTicks.filter(v => v > -30 && v < 25).forEach(v => {
  const yy = Math.round(yT(v)) + 0.5;
  grid.append("line").attr("x1", L).attr("x2", R).attr("y1", yy).attr("y2", yy);
});

const plot = svg.append("g").attr("clip-path", "url(#clip)");
const lineT = d3.line().x((d, i) => x(times[i])).y(d => yT(d));
const lineP = d3.line().x((d, i) => x(times[i])).y(d => yP(d));

memberTemps.forEach((s, k) => plot.append("path").attr("d", lineT(s)).attr("fill", "none")
  .attr("stroke", memberColors[k]).attr("stroke-width", 1));
memberPrecs.forEach((s, k) => plot.append("path").attr("d", lineP(s)).attr("fill", "none")
  .attr("stroke", memberColors[k]).attr("stroke-width", 1));

const thick = (d, c, w) => plot.append("path").attr("d", d).attr("fill", "none")
  .attr("stroke", c).attr("stroke-width", w).attr("stroke-linejoin", "round");
thick(lineT(tClim), "#f04848", 3.5);
thick(lineP(pControl), "#0000ff", 3.5);
thick(lineT(tControl), "#0000ff", 3.5);
thick(lineP(pMean), "#ffffff", 3.5);
thick(lineT(tMean), "#ffffff", 3.5);
thick(lineP(pOper), "#11dd11", 3.5);
thick(lineT(tOper), "#11dd11", 3.5);

// axes
const axisFont = g => g.selectAll("text").attr("fill", "#fff").style("font-size", "11px").style("font-family", "DejaVu Sans");
const gl = svg.append("g").attr("transform", `translate(${L},0)`)
  .call(d3.axisLeft(yT).tickValues(tempTicks).tickSize(0).tickPadding(9).tickFormat(d3.format("d")));
gl.select(".domain").attr("stroke", "#fff");
axisFont(gl);

const gr = svg.append("g").attr("transform", `translate(${R},0)`)
  .call(d3.axisRight(yP).ticks(40).tickSize(4).tickPadding(3).tickFormat(d => precTicks.includes(d) ? d : ""));
gr.select(".domain").attr("stroke", "#fff");
gr.selectAll(".tick line").attr("stroke", "#fff");
axisFont(gr);

const gb = svg.append("g").attr("transform", `translate(0,${B})`)
  .call(d3.axisBottom(x).tickValues(xTickLabels.map((s, k) => new Date(t0 + 2 * k * day)))
    .tickSize(0).tickPadding(8).tickFormat((d, k) => xTickLabels[k]));
gb.select(".domain").attr("stroke", "#fff");
axisFont(gb);

// axis titles
svg.append("text").attr("transform", "translate(135,295) rotate(-90)").attr("text-anchor", "middle")
  .style("font-size", "11px").text("850 hPa Temp. (°C)");
svg.append("text").attr("transform", "translate(844,295) rotate(-90)").attr("text-anchor", "middle")
  .style("font-size", "11px").text("Precipitation (mm)");
svg.append("text").attr("x", 486).attr("y", 593).attr("text-anchor", "middle")
  .style("font-size", "11px").text("Date (UTC)");

// title and footer
svg.append("text").attr("x", 435).attr("y", 18).attr("text-anchor", "middle")
  .style("font-size", "16px").style("font-weight", "bold").style("white-space", "pre")
  .text("De Bilt  (NL)  850 hPa Temp. & Precipitation | Sat, 28Dec2024 12Z");
svg.append("text").attr("x", 120).attr("y", 605).style("font-size", "16px").attr("fill", "#e8e8e8")
  .text("GFS Ensemble, 52N, 5E");
svg.append("text").attr("x", 650).attr("y", 605).style("font-size", "16px").attr("fill", "#e8e8e8")
  .text("Wetterzentrale.de");

// legend
const leg = svg.append("g").style("font-size", "11px");
const legItems = memberNames.map((n, k) => ({ name: n, color: memberColors[k], col: k % 2, row: Math.floor(k / 2) }));
legItems.push({ name: "Control", color: "#0000ff", col: 0, row: 15 });
legItems.push({ name: "Ens. mean", color: "#ffffff", col: 1, row: 15 });
legItems.forEach(it => {
  const lx = it.col ? 53 : 0, ly = 40 + it.row * 15;
  leg.append("line").attr("x1", lx).attr("x2", lx + 8).attr("y1", ly).attr("y2", ly)
    .attr("stroke", it.color).attr("stroke-width", 2);
  leg.append("text").attr("x", lx + 9).attr("y", ly + 4).text(it.name);
});
leg.append("line").attr("x1", 53).attr("x2", 61).attr("y1", 292).attr("y2", 292).attr("stroke", "#f04848").attr("stroke-width", 2);
leg.append("text").attr("x", 64).attr("y", 295.5).style("font-size", "10.5px").text("1991-2020");
leg.append("text").attr("x", 64).attr("y", 308).style("font-size", "10.5px").text("mean");
leg.append("line").attr("x1", 0).attr("x2", 8).attr("y1", 305).attr("y2", 305).attr("stroke", "#11dd11").attr("stroke-width", 2);
leg.append("text").attr("x", 9).attr("y", 309).text("Oper");
</script>
</body></html>
